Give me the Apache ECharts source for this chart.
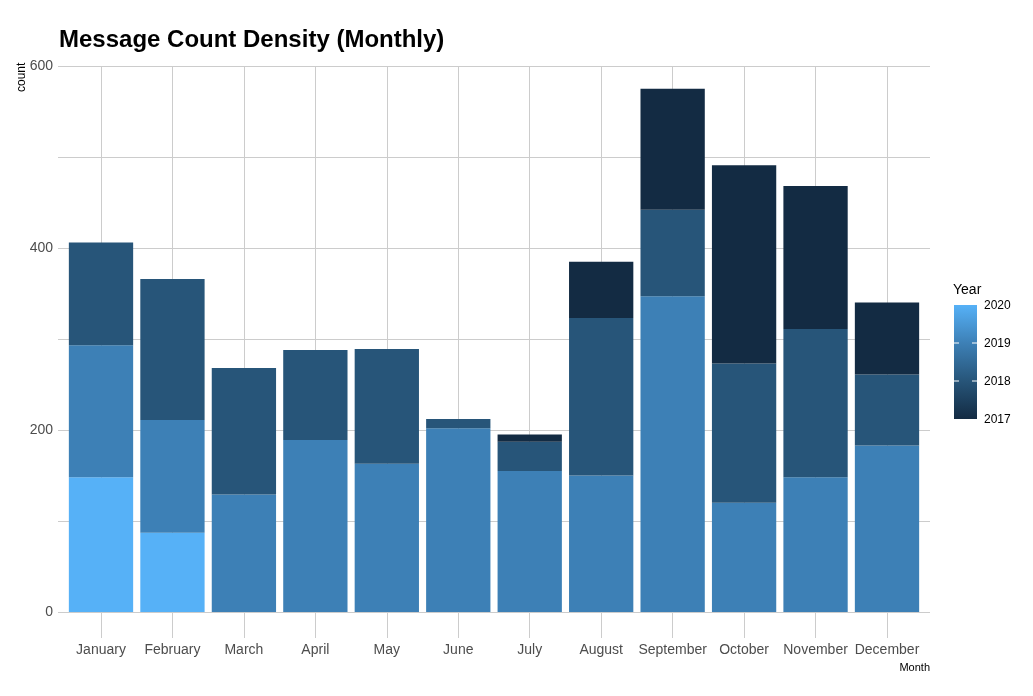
<!DOCTYPE html>
<html><head><meta charset="utf-8">
<script src="https://cdn.jsdelivr.net/npm/echarts@6/dist/echarts.min.js"></script>
<style>html,body{margin:0;padding:0;background:#fff}#c{width:1033px;height:696px}</style>
</head><body><div id="c"></div>
<script>
const months = ['January','February','March','April','May','June','July','August','September','October','November','December'];
const years = ['2020','2019','2018','2017'];
const y2020 = [148, 87, 0, 0, 0, 0, 0, 0, 0, 0, 0, 0];
const y2019 = [145, 124, 129, 189, 163, 202, 155, 150, 347, 120, 148, 183];
const y2018 = [113, 155, 139, 99, 126, 10, 32, 173, 95, 153, 163, 78];
const y2017 = [0, 0, 0, 0, 0, 0, 8, 62, 133, 218, 157, 79];
const yTicks = [0, 200, 400, 600];
const legendLabels = ['2020','2019','2018','2017'];

const colors = {'2020':'#56B1F7','2019':'#3D80B6','2018':'#275579','2017':'#132B43'};
const vals = {'2020':y2020,'2019':y2019,'2018':y2018,'2017':y2017};
const font = '"Liberation Sans", Arial, sans-serif';
const grid = '#cccccc';

const chart = echarts.init(document.getElementById('c'), null, {renderer:'canvas'});

const series = years.map(y => ({
  name: y, type: 'bar', stack: 'total', xAxisIndex: 1, yAxisIndex: 1,
  barWidth: 64.3, clip: false, data: vals[y],
  itemStyle: {color: colors[y], borderWidth: 0}, emphasis: {disabled: true}
}));

// colorbar legend
const cbX = 954, cbY = 305, cbW = 23, cbH = 114;
const legendGraphics = [
  {type:'text', left: 953, top: 283, style:{text:'Year', font:'14px '+font, fill:'#000'}},
  {type:'rect', shape:{x:cbX, y:cbY, width:cbW, height:cbH},
   style:{fill: new echarts.graphic.LinearGradient(0,0,0,1,[{offset:0,color:'#56B1F7'},{offset:1/3,color:'#3D80B6'},{offset:2/3,color:'#275579'},{offset:1,color:'#132B43'}])}}
];
legendLabels.forEach((lab, i) => {
  const yy = cbY + i * cbH / 3;
  legendGraphics.push({type:'text', x: 984, y: yy + 1, style:{text: lab, font:'12px '+font, fill:'#000', verticalAlign:'middle'}});
  if (i > 0 && i < 3) {
    legendGraphics.push({type:'line', shape:{x1:cbX, y1:yy, x2:cbX+5, y2:yy}, style:{stroke:'#fff', lineWidth:1}});
    legendGraphics.push({type:'line', shape:{x1:cbX+cbW-5, y1:yy, x2:cbX+cbW, y2:yy}, style:{stroke:'#fff', lineWidth:1}});
  }
});

chart.setOption({
  animation: false,
  title: {text: 'Message Count Density (Monthly)', left: 54, top: 23,
    textStyle: {fontFamily: font, fontSize: 24, fontWeight: 'bold', color: '#000'}},
  grid: [
    {left: 58, right: 103, top: 66, bottom: 84},
    {left: 101, right: 146, top: 66, bottom: 84}
  ],
  xAxis: [
    {type: 'value', gridIndex: 0, show: false, min: 0, max: 1},
    {type: 'category', gridIndex: 1, data: months, boundaryGap: false,
      axisLine: {show: false},
      axisTick: {show: true, length: 26, lineStyle: {color: grid}},
      splitLine: {show: true, lineStyle: {color: grid, width: 1}},
      axisLabel: {interval: 0, margin: 31, fontFamily: font, fontSize: 14, color: '#4d4d4d'}}
  ],
  yAxis: [
    {type: 'value', gridIndex: 0, min: 0, max: 600, interval: 100,
      axisLine: {show: false}, axisTick: {show: false},
      splitLine: {show: true, lineStyle: {color: grid, width: 1}},
      axisLabel: {margin: 5, fontFamily: font, fontSize: 14, color: '#4d4d4d',
        formatter: v => yTicks.includes(v) ? String(v) : ''}},
    {type: 'value', gridIndex: 1, min: 0, max: 600, show: false}
  ],
  series: series,
  graphic: [
    {type:'text', x: 16, y: 92, rotation: Math.PI/2, style:{text:'count', font:'12px '+font, fill:'#000'}},
    {type:'text', x: 930, y: 662, style:{text:'Month', font:'11px '+font, fill:'#000', align:'right'}},
    ...legendGraphics
  ]
});
</script>
</body></html>
